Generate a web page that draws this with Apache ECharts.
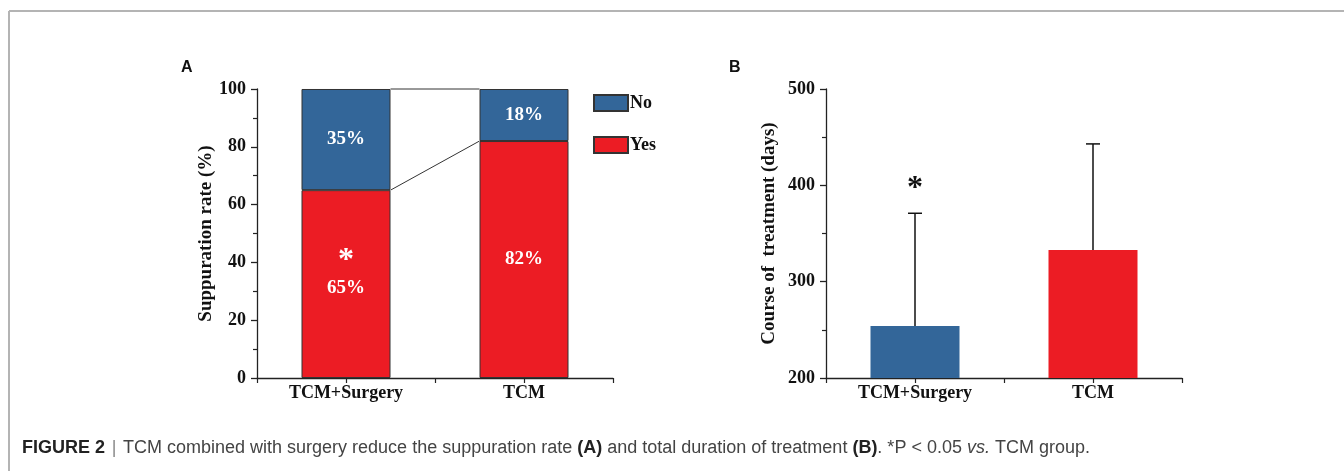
<!DOCTYPE html>
<html lang="en">
<head>
    <meta charset="UTF-8">
    <title>Figure 2</title>
    <script src="https://cdn.jsdelivr.net/npm/echarts@6/dist/echarts.min.js"></script>
    <style>
        html, body { margin: 0; padding: 0; background: #fff; }
        #main { width: 1344px; height: 471px; }
    </style>
</head>
<body>
<div id="main"></div>
<script>
    // data
    var categories = ['TCM+Surgery', 'TCM'];
    var yesRate = [65, 82];          // panel A, red
    var noRate = [35, 18];           // panel A, blue
    var rateSig = ['*', ''];
    var courseMean = [254, 333];     // panel B, bar height (days)
    var courseUpper = [371, 443];    // panel B, mean + SD
    var courseSig = ['*', ''];

    var BLUE = '#336699';
    var RED = '#ec1c24';
    var SERIF = "'Liberation Serif', 'Times New Roman', serif";
    var SANS = "'Liberation Sans', Arial, sans-serif";

    var axisText = { fontFamily: SERIF, fontWeight: 'bold', fontSize: 18, color: '#111' };
    var axisLine = { show: true, lineStyle: { color: '#222', width: 1.3 } };

    function yAxisCommon(name, min, max, interval, gap) {
        return {
            type: 'value', min: min, max: max, interval: interval,
            name: name, nameLocation: 'middle', nameGap: gap, nameRotate: 90,
            nameTextStyle: { fontFamily: SERIF, fontWeight: 'bold', fontSize: 19, color: '#111' },
            axisLine: axisLine,
            axisTick: { show: true, length: 6, lineStyle: { color: '#222', width: 1.3 } },
            minorTick: { show: true, splitNumber: 2, length: 4, lineStyle: { color: '#222', width: 1.2 } },
            axisLabel: Object.assign({ margin: 11 }, axisText),
            splitLine: { show: false }
        };
    }

    function xAxes(gridIndex) {
        return [{
            // boundary ticks + axis line
            type: 'category', gridIndex: gridIndex, data: categories,
            axisLine: axisLine,
            axisTick: { show: true, length: 5, lineStyle: { color: '#222', width: 1.2 } },
            axisLabel: { show: false }
        }, {
            // centred ticks + labels
            type: 'category', gridIndex: gridIndex, data: categories, position: 'bottom',
            axisLine: { show: false },
            axisTick: { show: true, alignWithLabel: true, length: 5, lineStyle: { color: '#222', width: 1.2 } },
            axisLabel: Object.assign({ margin: 6 }, axisText)
        }];
    }

    var stackTops = [yesRate, yesRate.map(function (v, i) { return v + noRate[i]; })];
    var linkData = stackTops.map(function (t) { return [0, t[0], t[1]]; });

    var chart = echarts.init(document.getElementById('main'));
    var option = {
        animation: false,
        grid: [
            { left: 257, top: 89, width: 356, height: 289 },
            { left: 826, top: 89, width: 356, height: 289 }
        ],
        xAxis: xAxes(0).concat(xAxes(1)),
        yAxis: [
            yAxisCommon('Suppuration rate (%)', 0, 100, 20, 40),
            Object.assign(yAxisCommon('Course of  treatment (days)', 200, 500, 100, 47), { gridIndex: 1 })
        ],
        legend: {
            data: ['No', 'Yes'],
            orient: 'vertical', left: 588, top: 89,
            icon: 'rect',
            itemWidth: 34, itemHeight: 16, itemGap: 24,
            textStyle: { fontFamily: SERIF, fontWeight: 'bold', fontSize: 18, color: '#111', padding: [0, 0, 0, -3] }
        },
        graphic: [
            { type: 'line', shape: { x1: 9, y1: 11, x2: 1344, y2: 11 }, style: { stroke: '#b4b4b4', lineWidth: 2 } },
            { type: 'line', shape: { x1: 9, y1: 11, x2: 9, y2: 471 }, style: { stroke: '#b4b4b4', lineWidth: 2 } },
            { type: 'text', left: 181, top: 60, style: { text: 'A', font: 'bold 16px ' + SANS, fill: '#111' } },
            { type: 'text', left: 729, top: 60, style: { text: 'B', font: 'bold 16px ' + SANS, fill: '#111' } },
            {
                type: 'text', left: 22, top: 439,
                style: {
                    text: '{b|FIGURE 2}  {s||}  {n|TCM combined with surgery reduce the suppuration rate }{b|(A)}{n| and total duration of treatment }{b|(B)}{n|. *P < 0.05 }{i|vs.}{n| TCM group.}',
                    rich: {
                        b: { fontFamily: SANS, fontWeight: 'bold', fontSize: 18, fill: '#222' },
                        s: { fontFamily: SANS, fontSize: 18, fill: '#888' },
                        n: { fontFamily: SANS, fontSize: 18, fill: '#444' },
                        i: { fontFamily: SANS, fontStyle: 'italic', fontSize: 18, fill: '#444' }
                    }
                }
            }
        ],
        series: [{
            name: 'Yes', type: 'bar', stack: 'rate', xAxisIndex: 0, yAxisIndex: 0,
            barWidth: '50%',
            // the marked bar gets its label nudged so the value stays at the bar centre
            data: yesRate.map(function (v, i) {
                return rateSig[i] ? { value: v, label: { offset: [0, 9] } } : v;
            }),
            itemStyle: { color: RED, borderColor: '#333', borderWidth: 1 },
            label: {
                show: true, position: 'inside',
                formatter: function (p) {
                    var s = rateSig[p.dataIndex];
                    return s ? '{s|' + s + '}\n{v|' + p.value + '%}\n{e| }' : '{v|' + p.value + '%}';
                },
                rich: {
                    s: { fontFamily: SERIF, fontWeight: 'bold', fontSize: 32, color: '#fff', lineHeight: 32, height: 32, padding: [10, 0, 0, 0] },
                    v: { fontFamily: SERIF, fontWeight: 'bold', fontSize: 19, color: '#fff', lineHeight: 32, height: 32 },
                    e: { fontSize: 10, lineHeight: 42, height: 42 }
                }
            }
        }, {
            name: 'No', type: 'bar', stack: 'rate', xAxisIndex: 0, yAxisIndex: 0,
            barWidth: '50%', data: noRate,
            itemStyle: { color: BLUE, borderColor: '#333', borderWidth: 1 },
            label: {
                show: true, position: 'inside', formatter: '{c}%',
                fontFamily: SERIF, fontWeight: 'bold', fontSize: 19, color: '#fff'
            }
        }, {
            // lines joining the stack levels of the two bars
            type: 'custom', xAxisIndex: 0, yAxisIndex: 0, data: linkData, z: 3,
            renderItem: function (params, api) {
                var half = api.size([1, 0])[0] * 0.25;
                var p0 = api.coord([api.value(0), api.value(1)]);
                var p1 = api.coord([api.value(0) + 1, api.value(2)]);
                return {
                    type: 'line',
                    shape: { x1: p0[0] + half, y1: p0[1], x2: p1[0] - half, y2: p1[1] },
                    style: { stroke: '#333', lineWidth: 1 }
                };
            }
        }, {
            name: 'Course', type: 'bar', xAxisIndex: 2, yAxisIndex: 1,
            barWidth: '50%',
            data: courseMean.map(function (v, i) {
                return { value: v, itemStyle: { color: i === 0 ? BLUE : RED } };
            })
        }, {
            // upper error bars + significance mark
            type: 'custom', xAxisIndex: 2, yAxisIndex: 1, z: 3,
            data: courseMean.map(function (v, i) { return [i, v, courseUpper[i]]; }),
            renderItem: function (params, api) {
                var lo = api.coord([api.value(0), api.value(1)]);
                var hi = api.coord([api.value(0), api.value(2)]);
                var cap = 7;
                var children = [
                    { type: 'line', shape: { x1: lo[0], y1: lo[1], x2: hi[0], y2: hi[1] }, style: { stroke: '#111', lineWidth: 1.5 } },
                    { type: 'line', shape: { x1: hi[0] - cap, y1: hi[1], x2: hi[0] + cap, y2: hi[1] }, style: { stroke: '#111', lineWidth: 1.5 } }
                ];
                var s = courseSig[params.dataIndex];
                if (s) {
                    children.push({
                        type: 'text', x: hi[0], y: hi[1] - 25,
                        style: { text: s, font: 'bold 32px ' + SERIF, fill: '#111', align: 'center', verticalAlign: 'middle' }
                    });
                }
                return { type: 'group', children: children };
            }
        }]
    };
    chart.setOption(option);
</script>
</body>
</html>
